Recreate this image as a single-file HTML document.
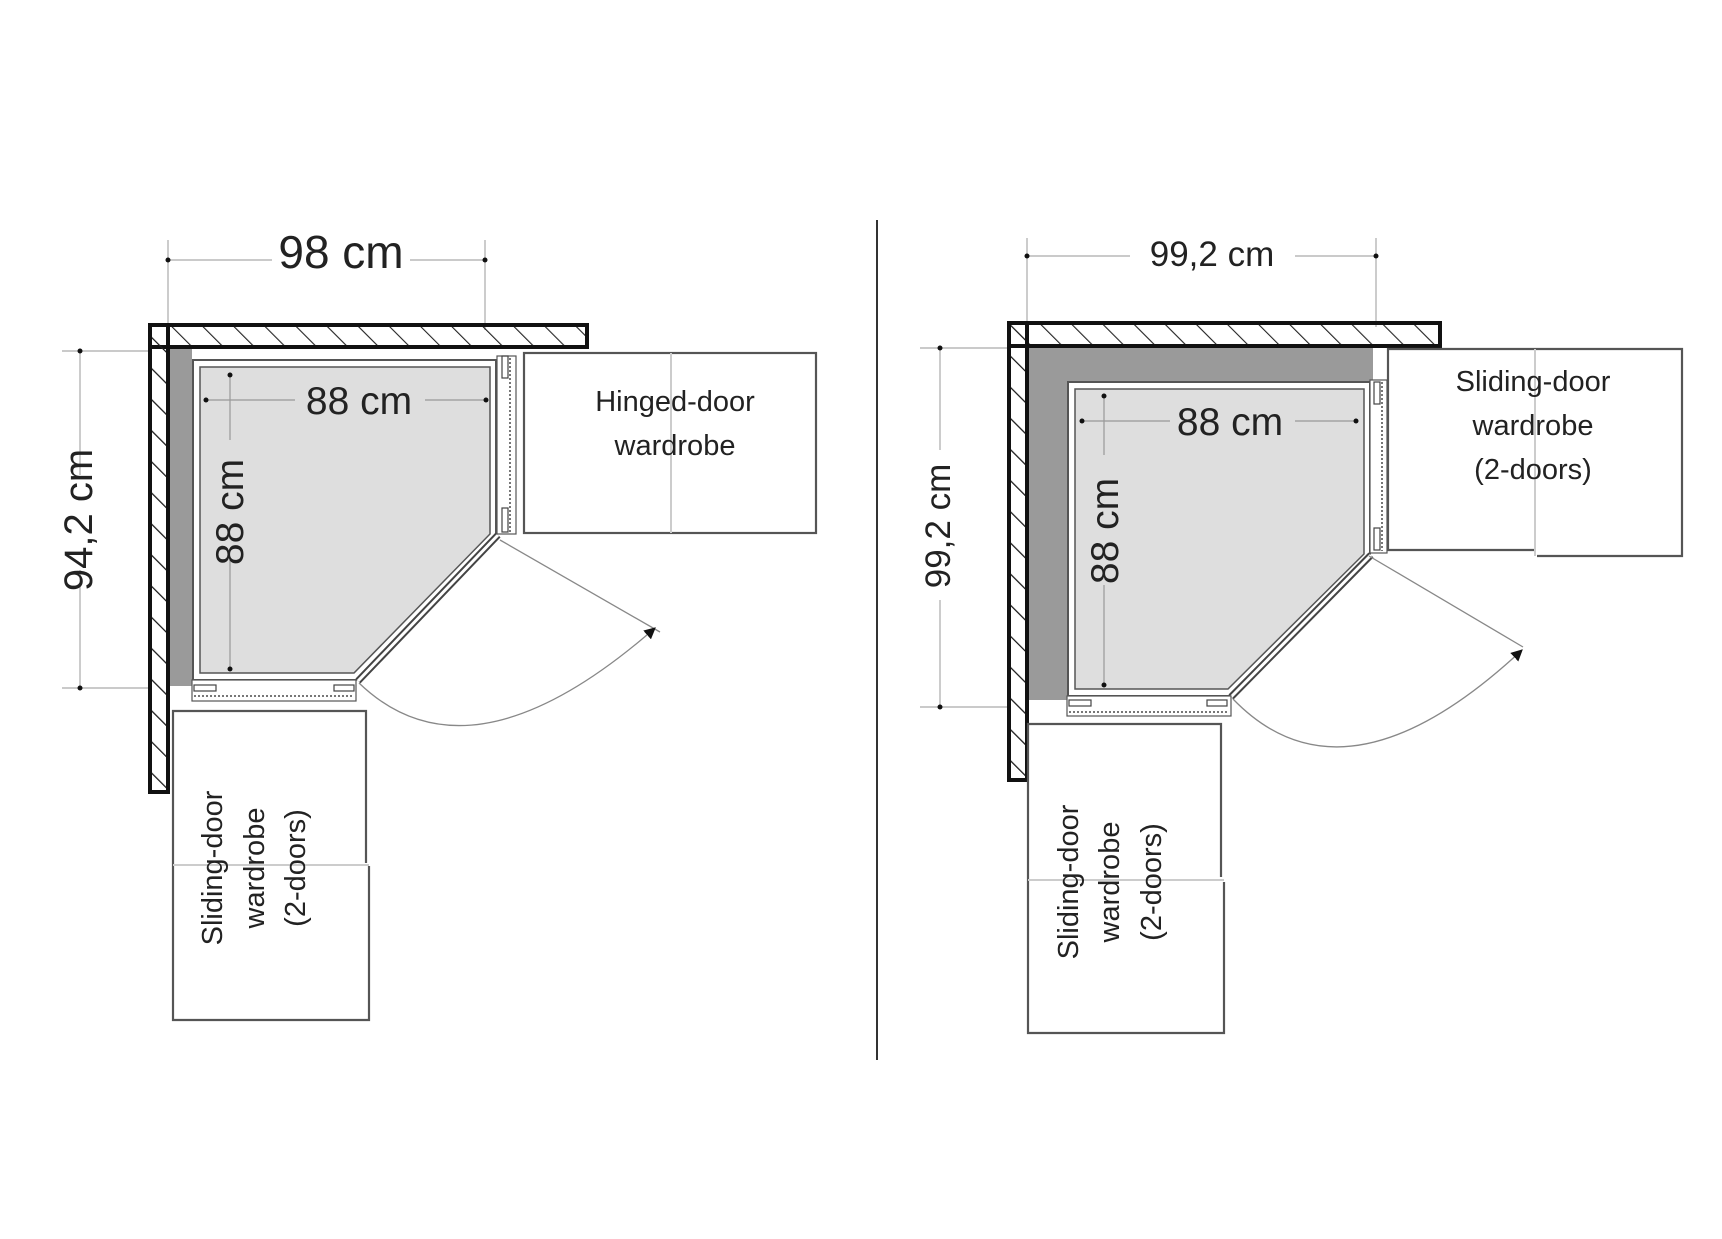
<!DOCTYPE html>
<html><head><meta charset="utf-8"><style>
html,body{margin:0;padding:0;background:#fff}
svg{display:block}
text{font-family:"Liberation Sans",Arial,sans-serif;fill:#222}
</style></head><body>
<svg width="1722" height="1239" viewBox="0 0 1722 1239" xmlns="http://www.w3.org/2000/svg">
<defs>
<pattern id="hx" width="22" height="22" patternUnits="userSpaceOnUse" patternTransform="rotate(-45)">
<line x1="0" y1="0" x2="0" y2="22" stroke="#222" stroke-width="2.2"/>
</pattern>
<marker id="ar" viewBox="0 0 10 10" refX="9" refY="5" markerWidth="9" markerHeight="9" orient="auto-start-reverse">
<path d="M0,0 L10,5 L0,10 z" fill="#111"/>
</marker>
</defs>

<line x1="877" y1="220" x2="877" y2="1060" stroke="#333" stroke-width="2"/>

<!-- ================= LEFT ================= -->
<g>
<g stroke="#aaa" stroke-width="1.2" fill="none">
<line x1="168" y1="240" x2="168" y2="330"/>
<line x1="485" y1="240" x2="485" y2="330"/>
<line x1="62" y1="351" x2="148" y2="351"/>
<line x1="62" y1="688" x2="148" y2="688"/>
<line x1="168" y1="260" x2="272" y2="260"/>
<line x1="410" y1="260" x2="485" y2="260"/>
<line x1="80" y1="351" x2="80" y2="475"/>
<line x1="80" y1="570" x2="80" y2="688"/>
</g>
<circle cx="168" cy="260" r="2.5" fill="#111"/><circle cx="485" cy="260" r="2.5" fill="#111"/>
<circle cx="80" cy="351" r="2.5" fill="#111"/><circle cx="80" cy="688" r="2.5" fill="#111"/>
<text x="341" y="268" font-size="46" text-anchor="middle">98 cm</text>
<text transform="translate(92,520) rotate(-90)" font-size="40" text-anchor="middle">94,2 cm</text>

<rect x="168" y="348" width="24" height="338" fill="#9a9a9a"/>
<polygon points="193,360 496,360 496,534 356,680 193,680" fill="#fff" stroke="#555" stroke-width="2"/>
<polygon points="200,367 490,367 490,534 354,673 200,673" fill="#dedede" stroke="#555" stroke-width="1.5"/>
<line x1="498" y1="535" x2="358" y2="681" stroke="#444" stroke-width="7"/>
<line x1="498" y1="535" x2="358" y2="681" stroke="#fff" stroke-width="3"/>
<rect x="497" y="356" width="19" height="178" fill="#fff" stroke="#555" stroke-width="1.2"/>
<line x1="510" y1="358" x2="510" y2="532" stroke="#777" stroke-width="2" stroke-dasharray="2,2"/>
<rect x="502" y="356" width="6" height="22" fill="none" stroke="#444" stroke-width="1.2"/>
<rect x="502" y="508" width="6" height="24" fill="none" stroke="#444" stroke-width="1.2"/>
<rect x="192" y="680" width="164" height="21" fill="#fff" stroke="#555" stroke-width="1.2"/>
<line x1="194" y1="696" x2="354" y2="696" stroke="#777" stroke-width="2" stroke-dasharray="2,2"/>
<rect x="194" y="685" width="22" height="6" fill="none" stroke="#444" stroke-width="1.2"/>
<rect x="334" y="685" width="20" height="6" fill="none" stroke="#444" stroke-width="1.2"/>

<g stroke="#999" stroke-width="1.2">
<line x1="206" y1="400" x2="295" y2="400"/><line x1="425" y1="400" x2="486" y2="400"/>
<line x1="230" y1="375" x2="230" y2="440"/><line x1="230" y1="560" x2="230" y2="669"/>
</g>
<circle cx="206" cy="400" r="2.5" fill="#111"/><circle cx="486" cy="400" r="2.5" fill="#111"/>
<circle cx="230" cy="375" r="2.5" fill="#111"/><circle cx="230" cy="669" r="2.5" fill="#111"/>
<text x="359" y="414" font-size="39" text-anchor="middle">88 cm</text>
<text transform="translate(243,512) rotate(-90)" font-size="39" text-anchor="middle">88 cm</text>

<rect x="150" y="325" width="437" height="22" fill="url(#hx)" stroke="#111" stroke-width="4"/>
<rect x="150" y="325" width="18" height="467" fill="url(#hx)" stroke="#111" stroke-width="4"/>
<rect x="152" y="347" width="14" height="443" fill="url(#hx)"/>
<line x1="168" y1="347" x2="587" y2="347" stroke="#111" stroke-width="2"/>
<line x1="168" y1="347" x2="168" y2="792" stroke="#111" stroke-width="2"/>

<line x1="500" y1="540" x2="660" y2="632" stroke="#888" stroke-width="1.3"/>
<path d="M359,683 Q470,790 655,628" fill="none" stroke="#888" stroke-width="1.3" marker-end="url(#ar)"/>

<rect x="524" y="353" width="292" height="180" fill="#fff" stroke="#555" stroke-width="2.2"/>
<line x1="671" y1="353" x2="671" y2="533" stroke="#ccc" stroke-width="2"/>
<text x="675" y="411" font-size="29" text-anchor="middle">Hinged-door</text>
<text x="675" y="455" font-size="29" text-anchor="middle">wardrobe</text>

<rect x="173" y="711" width="195" height="309" fill="#fff" stroke="none"/>
<polyline points="366,863 366,711 173,711 173,1020 369,1020 369,866" fill="none" stroke="#555" stroke-width="2.2"/>
<line x1="173" y1="865" x2="369" y2="865" stroke="#ccc" stroke-width="2"/>
<text transform="translate(222,868) rotate(-90)" font-size="29" text-anchor="middle">Sliding-door</text>
<text transform="translate(264,868) rotate(-90)" font-size="29" text-anchor="middle">wardrobe</text>
<text transform="translate(305,868) rotate(-90)" font-size="29" text-anchor="middle">(2-doors)</text>
</g>

<!-- ================= RIGHT ================= -->
<g>
<g stroke="#aaa" stroke-width="1.2" fill="none">
<line x1="1027" y1="238" x2="1027" y2="327"/>
<line x1="1376" y1="238" x2="1376" y2="327"/>
<line x1="1027" y1="256" x2="1130" y2="256"/>
<line x1="1295" y1="256" x2="1376" y2="256"/>
<line x1="920" y1="348" x2="1007" y2="348"/>
<line x1="920" y1="707" x2="1007" y2="707"/>
<line x1="940" y1="348" x2="940" y2="450"/>
<line x1="940" y1="600" x2="940" y2="707"/>
</g>
<circle cx="1027" cy="256" r="2.5" fill="#111"/><circle cx="1376" cy="256" r="2.5" fill="#111"/>
<circle cx="940" cy="348" r="2.5" fill="#111"/><circle cx="940" cy="707" r="2.5" fill="#111"/>
<text x="1212" y="266" font-size="35" text-anchor="middle">99,2 cm</text>
<text transform="translate(950,526) rotate(-90)" font-size="35" text-anchor="middle">99,2 cm</text>

<polygon points="1027,348 1373,348 1373,382 1068,382 1068,700 1027,700" fill="#9a9a9a"/>
<polygon points="1068,382 1370,382 1370,554 1230,696 1068,696" fill="#fff" stroke="#555" stroke-width="2"/>
<polygon points="1075,389 1364,389 1364,554 1228,689 1075,689" fill="#dedede" stroke="#555" stroke-width="1.5"/>
<line x1="1371" y1="555" x2="1231" y2="697" stroke="#444" stroke-width="7"/>
<line x1="1371" y1="555" x2="1231" y2="697" stroke="#fff" stroke-width="3"/>
<rect x="1370" y="380" width="17" height="173" fill="#fff" stroke="#555" stroke-width="1.2"/>
<line x1="1382" y1="382" x2="1382" y2="551" stroke="#777" stroke-width="2" stroke-dasharray="2,2"/>
<rect x="1374" y="382" width="6" height="22" fill="none" stroke="#444" stroke-width="1.2"/>
<rect x="1374" y="528" width="6" height="22" fill="none" stroke="#444" stroke-width="1.2"/>
<rect x="1067" y="696" width="164" height="20" fill="#fff" stroke="#555" stroke-width="1.2"/>
<line x1="1069" y1="712" x2="1229" y2="712" stroke="#777" stroke-width="2" stroke-dasharray="2,2"/>
<rect x="1069" y="700" width="22" height="6" fill="none" stroke="#444" stroke-width="1.2"/>
<rect x="1207" y="700" width="20" height="6" fill="none" stroke="#444" stroke-width="1.2"/>

<g stroke="#999" stroke-width="1.2">
<line x1="1082" y1="421" x2="1170" y2="421"/><line x1="1295" y1="421" x2="1356" y2="421"/>
<line x1="1104" y1="396" x2="1104" y2="455"/><line x1="1104" y1="585" x2="1104" y2="685"/>
</g>
<circle cx="1082" cy="421" r="2.5" fill="#111"/><circle cx="1356" cy="421" r="2.5" fill="#111"/>
<circle cx="1104" cy="396" r="2.5" fill="#111"/><circle cx="1104" cy="685" r="2.5" fill="#111"/>
<text x="1230" y="435" font-size="39" text-anchor="middle">88 cm</text>
<text transform="translate(1118,531) rotate(-90)" font-size="39" text-anchor="middle">88 cm</text>

<rect x="1009" y="323" width="431" height="23" fill="url(#hx)" stroke="#111" stroke-width="4"/>
<rect x="1009" y="323" width="18" height="457" fill="url(#hx)" stroke="#111" stroke-width="4"/>
<rect x="1011" y="346" width="14" height="432" fill="url(#hx)"/>
<line x1="1027" y1="346" x2="1440" y2="346" stroke="#111" stroke-width="2"/>
<line x1="1027" y1="346" x2="1027" y2="780" stroke="#111" stroke-width="2"/>

<line x1="1369" y1="556" x2="1523" y2="647" stroke="#888" stroke-width="1.3"/>
<path d="M1233,699 Q1345,815 1522,650" fill="none" stroke="#888" stroke-width="1.3" marker-end="url(#ar)"/>

<rect x="1388" y="349" width="294" height="207" fill="#fff" stroke="none"/>
<polyline points="1534,550 1388,550 1388,349 1682,349 1682,556 1537,556" fill="none" stroke="#555" stroke-width="2.2"/>
<line x1="1535" y1="349" x2="1535" y2="556" stroke="#ccc" stroke-width="2"/>
<text x="1533" y="391" font-size="29" text-anchor="middle">Sliding-door</text>
<text x="1533" y="435" font-size="29" text-anchor="middle">wardrobe</text>
<text x="1533" y="479" font-size="29" text-anchor="middle">(2-doors)</text>

<rect x="1028" y="724" width="196" height="309" fill="#fff" stroke="none"/>
<polyline points="1221,877 1221,724 1028,724 1028,1033 1224,1033 1224,882" fill="none" stroke="#555" stroke-width="2.2"/>
<line x1="1028" y1="880" x2="1224" y2="880" stroke="#ccc" stroke-width="2"/>
<text transform="translate(1078,882) rotate(-90)" font-size="29" text-anchor="middle">Sliding-door</text>
<text transform="translate(1119,882) rotate(-90)" font-size="29" text-anchor="middle">wardrobe</text>
<text transform="translate(1161,882) rotate(-90)" font-size="29" text-anchor="middle">(2-doors)</text>
</g>
</svg>
</body></html>
